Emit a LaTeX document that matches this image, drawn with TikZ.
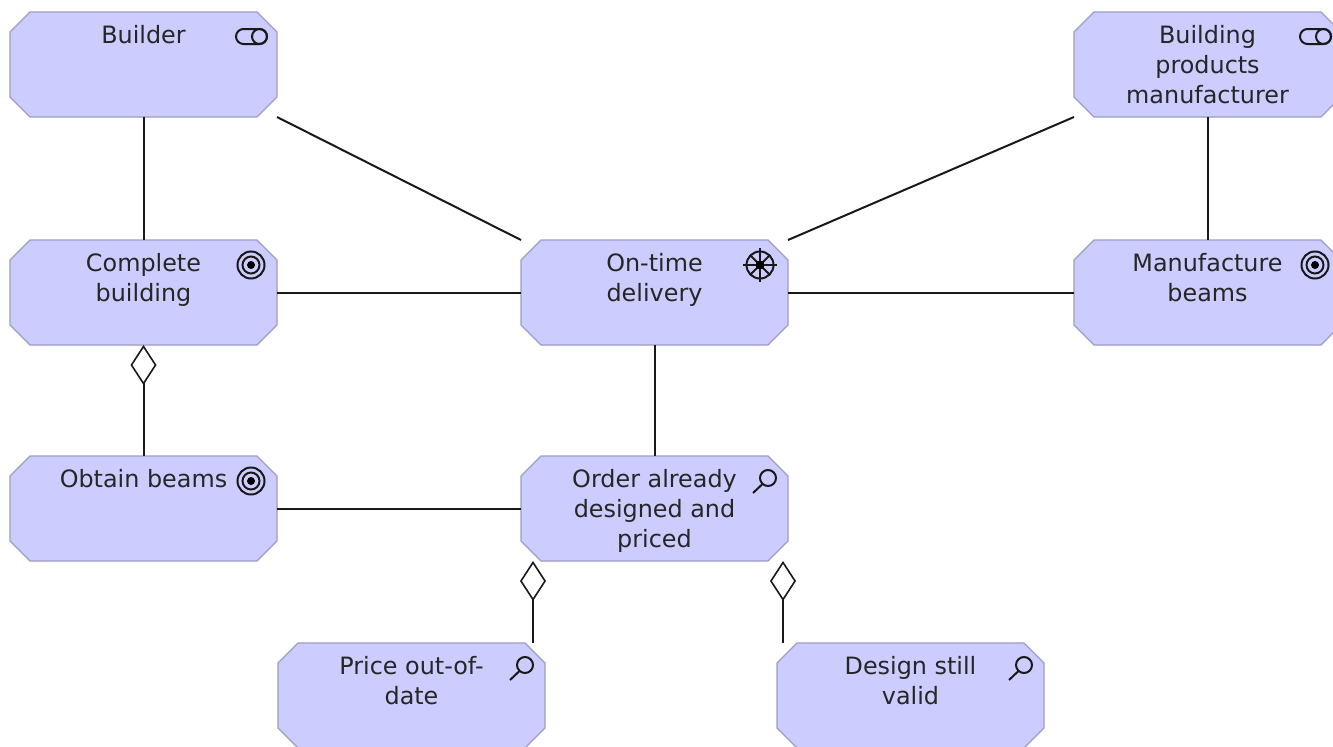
\documentclass[tikz,border=0pt]{standalone}
\usepackage{fontspec}
\setmainfont{DejaVu Sans}
\usetikzlibrary{arrows.meta}
\definecolor{boxfill}{HTML}{CCCCFF}
\definecolor{boxline}{HTML}{9C9CC6}
\tikzset{
  boxbase/.style={rectangle,draw=none,fill=none,inner sep=0pt,outer sep=0pt,minimum width=200.25pt,minimum height=78.75pt,anchor=north west},
  octa/.style={draw=boxline,fill=boxfill,line width=1pt,line join=round},
  boxtext/.style={anchor=base,inner sep=0pt,outer sep=0pt,font=\fontsize{17.9}{22.5}\selectfont,text=black!85},
  conn/.style={draw=black!90,line width=1.5pt},
  aggr/.style={conn,{Diamond[open,fill=white,length=30pt,width=19.5pt,line width=1.2pt]}-},
  icon/.style={draw=black!90,line width=1.5pt}
}
\newcommand{\abox}[4]{%
  \node[boxbase] (#1) at (#2,#3) {};
  \path[octa] ([xshift=15pt]#1.north west) -- ([xshift=-15pt]#1.north east)
    -- ([yshift=-15pt]#1.north east) -- ([yshift=15pt]#1.south east)
    -- ([xshift=-15pt]#1.south east) -- ([xshift=15pt]#1.south west)
    -- ([yshift=15pt]#1.south west) -- ([yshift=-15pt]#1.north west) -- cycle;
  \node[boxtext] (#1-text) at ([yshift=-23.4pt]#1.north)
    {\renewcommand{\arraystretch}{1}\setlength{\baselineskip}{22.5pt}\begin{tabular}[t]{@{}c@{}}#4\end{tabular}};
}
\newcommand{\iconactor}[1]{%
  \begin{scope}[shift={(#1.north east)}]
    \draw[icon,rounded corners=5.6pt] (-41,17) rectangle (-10,32);
    \draw[icon] (-17.5,24.5) circle[radius=7.5];
  \end{scope}}
\newcommand{\icongoal}[1]{%
  \begin{scope}[shift={(#1.north east)}]
    \draw[icon] (-26,25) circle[radius=13.5];
    \draw[icon] (-26,25) circle[radius=8.5];
    \fill[black] (-26,25) circle[radius=4];
  \end{scope}}
\newcommand{\icondriver}[1]{%
  \begin{scope}[shift={(#1.north east)}]
    \draw[icon] (-28,25) circle[radius=13.5];
    \draw[icon] (-45,25) -- (-11,25);
    \draw[icon] (-28,8) -- (-28,42);
    \draw[icon] (-38,15) -- (-18,35);
    \draw[icon] (-38,35) -- (-18,15);
    \fill[black] (-32,21) rectangle (-24,29);
  \end{scope}}
\newcommand{\iconassess}[1]{%
  \begin{scope}[shift={(#1.north east)}]
    \draw[icon] (-20,22) circle[radius=8];
    \draw[icon] (-25.5,28) -- (-35,37);
  \end{scope}}
\begin{document}
\begin{tikzpicture}[x=.75pt,y=-.75pt]
\useasboundingbox (0,0) rectangle (1333,746);
\clip (0,0) rectangle (1333,746);
\abox{builder}{10}{12}{Builder}
\abox{bpm}{1074}{12}{Building\\products\\manufacturer}
\abox{complete}{10}{240}{Complete\\building}
\abox{ontime}{521}{240}{On-time\\delivery}
\abox{manufacture}{1074}{240}{Manufacture\\beams}
\abox{obtain}{10}{456}{Obtain beams}
\abox{order}{521}{456}{Order already\\designed and\\priced}
\abox{price}{278}{643}{Price out-of-\\date}
\abox{design}{777}{643}{Design still\\valid}
\iconactor{builder}
\iconactor{bpm}
\icongoal{complete}
\icongoal{manufacture}
\icongoal{obtain}
\icondriver{ontime}
\iconassess{order}
\iconassess{price}
\iconassess{design}
\draw[conn] (builder.south) -- (complete.north);
\draw[conn] (builder.south east) -- (ontime.north west);
\draw[conn] (bpm.south west) -- (ontime.north east);
\draw[conn] (bpm.south) -- (manufacture.north);
\draw[conn] (complete.east) -- (ontime.west);
\draw[conn] (ontime.east) -- (manufacture.west);
\draw[conn] (ontime.south) -- (order.north);
\draw[conn] (obtain.east) -- (order.west);
\draw[aggr] (complete.south) -- (obtain.north);
\draw[aggr] ([xshift=9pt]order.south west) -- ([xshift=191.25pt]price.north west);
\draw[aggr] ([xshift=-3.75pt]order.south east) -- ([xshift=4.5pt]design.north west);
\end{tikzpicture}
\end{document}
